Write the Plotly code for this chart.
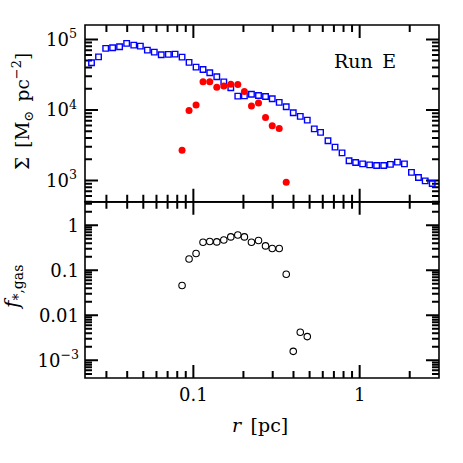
import numpy as np
import plotly.graph_objects as go

# ---- data ----
r_gas = [0.0244, 0.0269, 0.0297, 0.0327, 0.0360, 0.0397, 0.0438, 0.0480, 0.0529, 0.0582,
         0.0641, 0.0707, 0.0776, 0.0855, 0.0942, 0.1038, 0.1143, 0.1255, 0.1383, 0.1524,
         0.1679, 0.1850, 0.2027, 0.2235, 0.2464, 0.2716, 0.2980, 0.3283, 0.3617, 0.3987,
         0.4394, 0.4842, 0.5335, 0.5821, 0.6450, 0.7110, 0.7835, 0.8635, 0.946, 1.042,
         1.148, 1.265, 1.395, 1.531, 1.687, 1.859, 2.049, 2.258, 2.478, 2.731]
sigma_gas = [46600, 56600, 74500, 76000, 78500, 87800, 83000, 80300, 70500, 66000,
             60500, 61300, 61900, 56100, 47200, 40500, 37500, 33600, 29500, 25000,
             20600, 15700, 15800, 16700, 16000, 15500, 14400, 12800, 11100, 9100,
             8090, 7170, 5390, 4800, 3650, 2970, 2460, 1900, 1800, 1720,
             1660, 1630, 1630, 1690, 1820, 1720, 1300, 1100, 986, 906]

r_star = [0.0855, 0.0942, 0.1038, 0.1143, 0.1255, 0.1383, 0.1524, 0.1679, 0.1850, 0.2027,
          0.2235, 0.2464, 0.2716, 0.2980, 0.3283, 0.3617]
sigma_star = [2670, 9840, 11700, 25000, 25000, 20900, 21800, 23200, 23000, 18200,
              11400, 12500, 7780, 5950, 5430, 940]

r_f = [0.0855, 0.0942, 0.1038, 0.1143, 0.1255, 0.1383, 0.1524, 0.1679, 0.1850, 0.2027,
       0.2235, 0.2464, 0.2716, 0.2980, 0.3283, 0.3617, 0.3987, 0.4394, 0.4842]
f_star_gas = [0.0457, 0.178, 0.235, 0.419, 0.434, 0.426, 0.471, 0.550, 0.608, 0.550,
              0.419, 0.457, 0.347, 0.303, 0.303, 0.0815, 0.00158, 0.00419, 0.00336]

x_major = [0.1, 1]
x_major_text = ["0.1", "1"]
y1_major = [1e3, 1e4, 1e5]
y1_major_text = ["10<sup>3</sup>", "10<sup>4</sup>", "10<sup>5</sup>"]
y2_major = [1, 0.1, 0.01, 0.001]
y2_major_text = ["1", "0.1", "0.01", "10<sup>\u22123</sup>"]

FONT = "DejaVu Serif"

XMIN, XMAX = 0.0223, 3.0
Y1MIN, Y1MAX = 497, 1.6e5
Y2MIN, Y2MAX = 4.05e-4, 3.3
SPLIT = 0.499


def minors(decades, lo, hi):
    out = []
    for d in decades:
        for k in range(2, 10):
            v = k * 10.0 ** d
            if lo < v < hi:
                out.append(v)
    return out


x_minor = minors([-2, -1, 0], XMIN, XMAX)
y1_minor = minors([2, 3, 4, 5], Y1MIN, Y1MAX)
y2_minor = minors([-4, -3, -2, -1, 0], Y2MIN, Y2MAX)

W = H = 463
L, T, R, B = 85, 25, 24, 85
pw = W - L - R
ph = H - T - B
ph_up = ph * (1 - SPLIT)
ph_lo = ph * SPLIT

LW = 2
MAJ, MIN = 13, 7
tick_line = dict(color="#000000", width=LW, simplify=False)


def x_tick_trace(vals, ln, ylo, yhi, hpx, xa, ya):
    fac = 10 ** (ln / hpx * (np.log10(yhi) - np.log10(ylo)))
    xs, ys = [], []
    for v in vals:
        xs += [v, v, None, v, v, None]
        ys += [ylo, ylo * fac, None, yhi, yhi / fac, None]
    return go.Scatter(x=xs, y=ys, mode="lines", line=tick_line, xaxis=xa, yaxis=ya,
                      hoverinfo="skip", connectgaps=False)


def y_tick_trace(vals, ln, xa, ya):
    fac = 10 ** (ln / pw * (np.log10(XMAX) - np.log10(XMIN)))
    xs, ys = [], []
    for v in vals:
        xs += [XMIN, XMIN * fac, None, XMAX, XMAX / fac, None]
        ys += [v, v, None, v, v, None]
    return go.Scatter(x=xs, y=ys, mode="lines", line=tick_line, xaxis=xa, yaxis=ya,
                      hoverinfo="skip", connectgaps=False)


fig = go.Figure()
for vals, ln in [(x_major, MAJ), (x_minor, MIN)]:
    fig.add_trace(x_tick_trace(vals, ln, Y1MIN, Y1MAX, ph_up, "x", "y"))
    fig.add_trace(x_tick_trace(vals, ln, Y2MIN, Y2MAX, ph_lo, "x2", "y2"))
for vals, ln in [(y1_major, MAJ), (y1_minor, MIN)]:
    fig.add_trace(y_tick_trace(vals, ln, "x", "y"))
for vals, ln in [(y2_major, MAJ), (y2_minor, MIN)]:
    fig.add_trace(y_tick_trace(vals, ln, "x2", "y2"))

fig.add_trace(go.Scatter(x=r_gas, y=sigma_gas, mode="markers", xaxis="x", yaxis="y",
                         marker=dict(symbol="square-open", size=5.5, color="#0000ff",
                                     line=dict(width=1.4, color="#0000ff"))))
fig.add_trace(go.Scatter(x=r_star, y=sigma_star, mode="markers", xaxis="x", yaxis="y",
                         marker=dict(symbol="circle", size=7, color="#ff0000")))
fig.add_trace(go.Scatter(x=r_f, y=f_star_gas, mode="markers", xaxis="x2", yaxis="y2",
                         marker=dict(symbol="circle-open", size=6.5, color="black",
                                     line=dict(width=1.1, color="black"))))

tickfont = dict(family=FONT, size=18, color="black")
base = dict(type="log", showgrid=False, zeroline=False, ticks="", showline=False,
            tickmode="array", tickfont=tickfont)

fig.update_layout(
    xaxis=dict(**base, range=[np.log10(XMIN), np.log10(XMAX)], tickvals=x_major,
               ticktext=x_major_text, anchor="y", domain=[0, 1], showticklabels=False),
    xaxis2=dict(**base, range=[np.log10(XMIN), np.log10(XMAX)], tickvals=x_major,
                ticktext=x_major_text, anchor="y2", domain=[0, 1], ticklabelstandoff=4),
    yaxis=dict(**base, range=[np.log10(Y1MIN), np.log10(Y1MAX)], tickvals=y1_major,
               ticktext=y1_major_text, anchor="x", domain=[SPLIT, 1], ticklabelstandoff=7),
    yaxis2=dict(**base, range=[np.log10(Y2MIN), np.log10(Y2MAX)], tickvals=y2_major,
                ticktext=y2_major_text, anchor="x2", domain=[0, SPLIT], ticklabelstandoff=5),
)

for xa, ya in [("x", "y"), ("x2", "y2")]:
    fig.add_shape(type="rect", xref=f"{xa} domain", yref=f"{ya} domain",
                  x0=0, x1=1, y0=0, y1=1, line=dict(color="black", width=1.6), layer="above")


def px(xp):
    return (xp - L) / pw


def py(yp):
    return (H - B - yp) / ph


SP = "\u2002"
annots = [
    dict(text="Run" + SP + "E", x=px(365), y=py(61), size=19, angle=0),
    dict(text="\u03a3" + SP + "[M<sub>\u2299</sub>" + SP + "pc<sup>\u22122</sup>]",
         x=px(22), y=py(112), size=18.5, angle=-90),
    dict(text="<i>f</i><sub>*,gas</sub>", x=px(13), y=py(288), size=20, angle=-90),
    dict(text="<i>r</i>" + SP + "[pc]", x=px(260), y=py(425), size=19, angle=0),
]
for a in annots:
    fig.add_annotation(text=a["text"], x=a["x"], y=a["y"], xref="paper", yref="paper",
                       xanchor="center", yanchor="middle", showarrow=False,
                       textangle=a["angle"],
                       font=dict(family=FONT, size=a["size"], color="black"))

fig.update_layout(width=W, height=H,
                  margin=dict(l=L, r=R, t=T, b=B, autoexpand=False),
                  paper_bgcolor="white", plot_bgcolor="white", showlegend=False)

fig.write_html("out.html", config={"displayModeBar": False},
               post_script="document.body.style.margin='0px';document.body.style.padding='0px';")
